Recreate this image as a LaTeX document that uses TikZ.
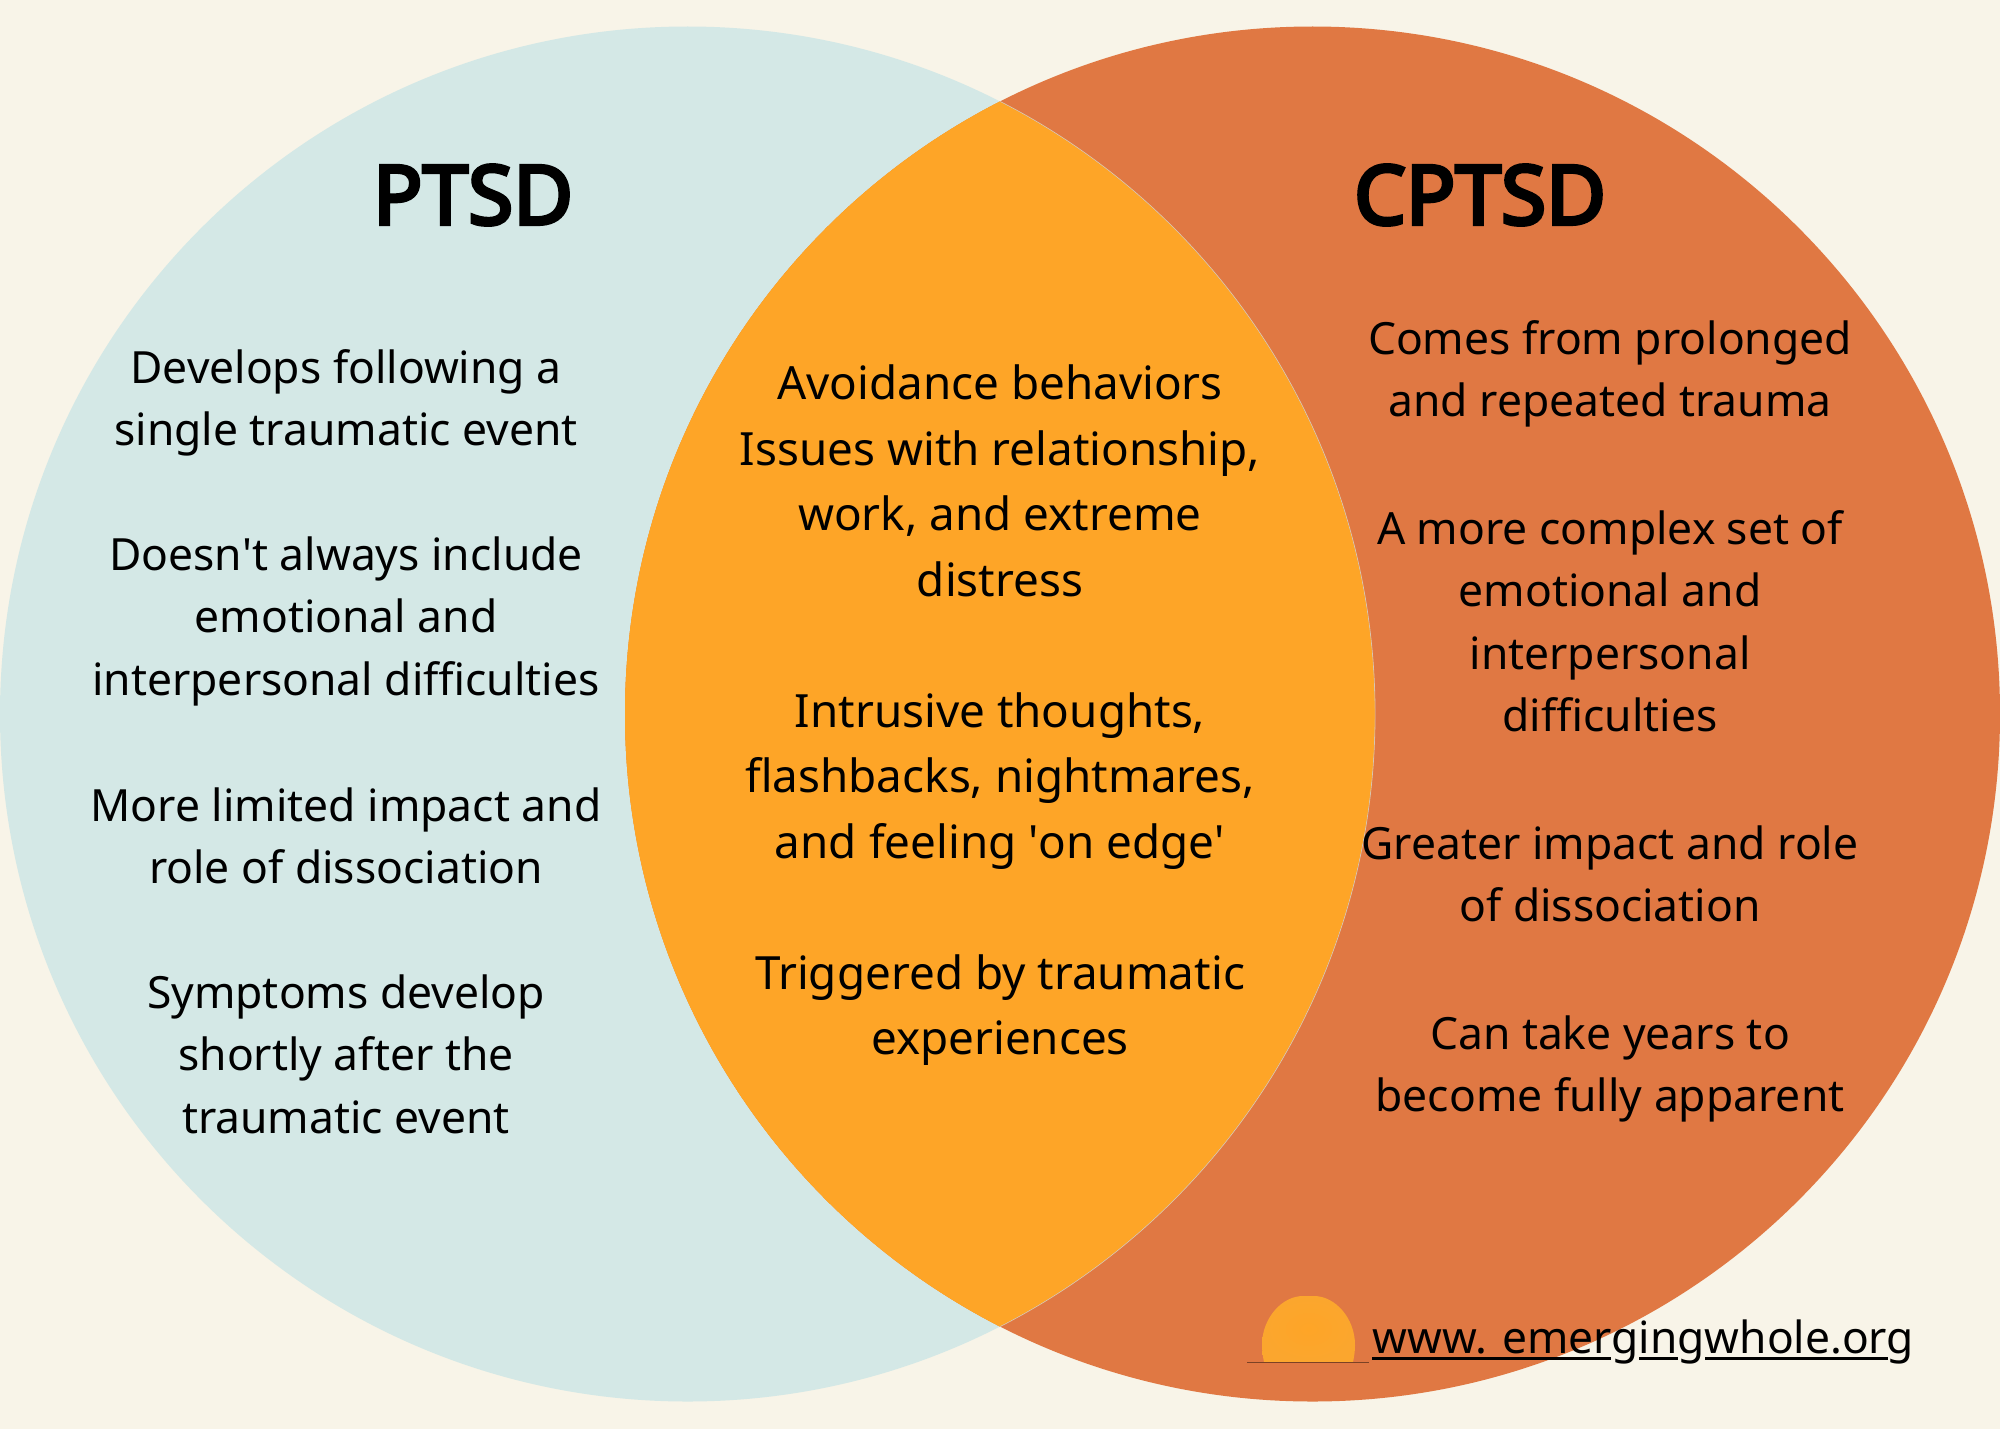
\documentclass[tikz,border=0pt]{standalone}
\usepackage{fontspec}
\setmainfont{Noto Sans}
\newfontfamily\titlef{Noto Sans}[FakeBold=4.5]
\newcommand\sq{{\XeTeXglyph\XeTeXcharglyph"27 }}
\definecolor{bgc}{HTML}{F8F4E8}
\definecolor{leftc}{HTML}{D4E8E6}
\definecolor{rightc}{HTML}{E07843}
\definecolor{midc}{HTML}{FEA527}
\definecolor{domeedge}{HTML}{FBA62E}
\tikzset{
  lefttxt/.style={align=center,inner sep=0pt,font=\fontsize{22.2}{31.25}\selectfont},
  midtxt/.style={align=center,inner sep=0pt,font=\fontsize{22.9}{32.8}\selectfont},
  title/.style={inner sep=0pt,font=\titlef\fontsize{41}{48}\selectfont},
}
\begin{document}
\begin{tikzpicture}[x=0.5pt,y=-0.5pt]
\useasboundingbox (0,0) rectangle (2000,1429);
\fill[bgc] (0,0) rectangle (2000,1429);
\coordinate (cl) at (687.5,714);
\coordinate (cr) at (1312.5,714);
\fill[leftc] (cl) circle[radius=687.5];
\fill[rightc] (cr) circle[radius=687.5];
\begin{scope}
\clip (cl) circle[radius=687.5];
\fill[midc] (cr) circle[radius=687.5];
\end{scope}
\begin{scope}
\clip (cr) circle[radius=687.5];
\draw[leftc!70!rightc,line width=0.4pt] (cl) circle[radius=687.5];
\end{scope}
\begin{scope}
\clip (cl) circle[radius=687];
\fill[midc] (cr) circle[radius=687.5];
\end{scope}
\node[title] (tp) at (473,195) {PTSD};
\node[title] (tc) at (1480,195) {CPTSD};
\node[lefttxt] (l1) at (346,403) {Develops following a\\single traumatic event};
\node[lefttxt] (l2) at (346,621) {Doesn\sq t always include\\emotional and\\interpersonal difficulties};
\node[lefttxt] (l3) at (346,836) {More limited impact and\\role of dissociation};
\node[lefttxt] (l4) at (346,1054) {Symptoms develop\\shortly after the\\traumatic event};
\node[midtxt] (m1) at (1000,481) {Avoidance behaviors\\Issues with relationship,\\work, and extreme\\distress};
\node[midtxt] (m2) at (1000,781) {Intrusive thoughts,\\flashbacks, nightmares,\\and feeling \sq on edge\sq};
\node[midtxt] (m3) at (1000,1010) {Triggered by traumatic\\experiences};
\node[lefttxt] (r1) at (1610,374) {Comes from prolonged\\and repeated trauma};
\node[lefttxt] (r2) at (1610,621) {A more complex set of\\emotional and\\interpersonal\\difficulties};
\node[lefttxt] (r3) at (1610,874) {Greater impact and role\\of dissociation};
\node[lefttxt] (r4) at (1610,1069) {Can take years to\\become fully apparent};
% logo
\path[inner color=midc,outer color=domeedge] (1262,1345) .. controls (1262,1318) and (1282,1296) .. (1303,1296) -- (1314,1296) .. controls (1335,1296) and (1355,1318) .. (1355,1345) .. controls (1355,1352) and (1354,1357) .. (1353,1362) -- (1264,1362) .. controls (1263,1357) and (1262,1352) .. (1262,1345) -- cycle;
\coordinate (g1) at (1247,1362.5); \coordinate (g2) at (1369,1362.5);
\draw[black!45!rightc,line width=0.6pt] (g1) -- (g2);
\node[inner sep=0pt,anchor=base west,font=\fontsize{22.15}{26}\selectfont] (url) at (1372,1353) {www. emergingwhole.org};
\coordinate (u1) at (1372,1358.5); \coordinate (u2) at (1611,1358.5);
\coordinate (u3) at (1639,1358.5); \coordinate (u4) at (1678,1358.5);
\coordinate (u5) at (1705,1358.5); \coordinate (u6) at (1888,1358.5);
\draw[black,line width=1.6pt] (u1) -- (u2) (u3) -- (u4) (u5) -- (u6);
\end{tikzpicture}
\end{document}
